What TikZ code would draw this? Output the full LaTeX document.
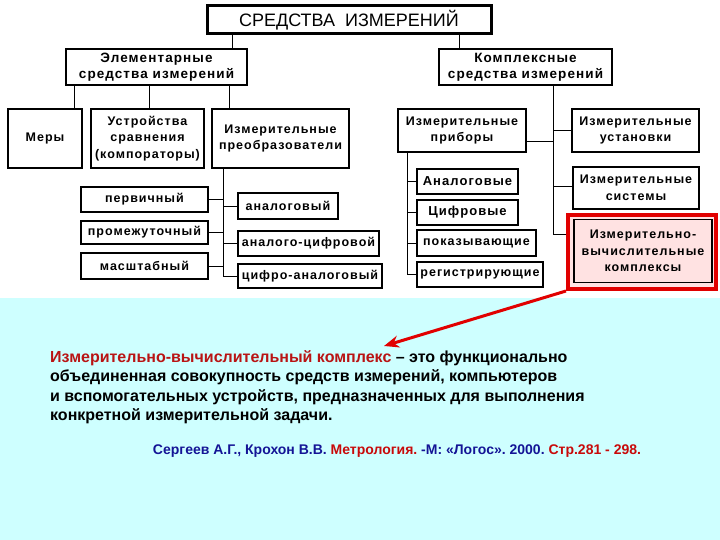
\documentclass[tikz,border=0pt]{standalone}
\usepackage{fontspec}
\setmainfont{Liberation Sans}
\newfontfamily\bxfont[LetterSpace=8]{Liberation Sans}
\usetikzlibrary{arrows.meta}
\definecolor{bgcyan}{RGB}{206,255,255}
\definecolor{pinkfill}{RGB}{255,226,226}
\definecolor{framered}{RGB}{225,0,0}
\definecolor{termred}{RGB}{185,20,20}
\definecolor{citeblue}{RGB}{20,20,150}
\definecolor{citered}{RGB}{200,10,10}
\frenchspacing
\begin{document}
\begin{tikzpicture}[x=1pt,y=-1pt,
  box/.style={draw=black,line width=1.2pt,fill=white,inner sep=0pt,align=center,
    font=\bxfont\bfseries\fontsize{12.5}{16.5}\selectfont},
  bigbox/.style={box,font=\bxfont\bfseries\fontsize{13}{16.5}\selectfont},
  topbox/.style={box,font=\bxfont\bfseries\fontsize{13.5}{16}\selectfont},
  conn/.style={draw=black,line width=0.8pt},
  deftext/.style={anchor=base west,inner sep=0pt,font=\bfseries\fontsize{16}{19}\selectfont},
  citetext/.style={anchor=base,inner sep=0pt,font=\bfseries\fontsize{14}{17}\selectfont}
]
\useasboundingbox (0,0) rectangle (720,540);
\fill[white] (0,0) rectangle (720,298);
\fill[bgcyan] (0,298) rectangle (720,540);

% title
\node[draw=black,line width=3pt,fill=white,minimum width=284pt,minimum height=28pt,inner sep=0pt,
  font=\fontsize{18}{20}\selectfont] (title) at (349,20) {СРЕДСТВА\ \ ИЗМЕРЕНИЙ};

% level 2
\node[topbox,minimum width=181pt,minimum height=36pt] (elem) at (156.5,67) {Элементарные\\средства измерений};
\node[topbox,minimum width=173pt,minimum height=36pt] (kompl) at (525.5,67) {Комплексные\\средства измерений};

% level 3 left
\node[box,minimum width=74pt,minimum height=59pt] (mery) at (45,138.5) {Меры};
\node[box,minimum width=113pt,minimum height=59pt] (ustr) at (147.5,138.5) {Устройства\\сравнения\\(компораторы)};
\node[box,minimum width=137pt,minimum height=59pt] (preobr) at (280.5,138.5) {Измерительные\\преобразователи};

% transformers sub
\node[box,minimum width=127pt,minimum height=25pt] (perv) at (144.5,199.5) {первичный};
\node[box,minimum width=127pt,minimum height=23pt] (promezh) at (144.5,232.5) {промежуточный};
\node[box,minimum width=127pt,minimum height=26pt] (masht) at (144.5,266) {масштабный};
\node[box,minimum width=100pt,minimum height=26pt] (anal) at (288,206) {аналоговый};
\node[box,minimum width=141pt,minimum height=25pt] (ac) at (308.5,243.5) {аналого-цифровой};
\node[box,minimum width=144pt,minimum height=24pt] (ca) at (310,276) {цифро-аналоговый};

% right side
\node[box,minimum width=128pt,minimum height=43pt] (pribory) at (462,130.5) {Измерительные\\приборы};
\node[box,minimum width=127pt,minimum height=43pt] (ustanovki) at (635.5,130.5) {Измерительные\\установки};
\node[box,minimum width=126pt,minimum height=42pt] (sistemy) at (636,188) {Измерительные\\системы};
\node[draw=framered,line width=4pt,fill=pinkfill,minimum width=148pt,minimum height=74pt,inner sep=0pt] (frame) at (642,252) {};
\node[box,fill=pinkfill,minimum width=138pt,minimum height=63pt] (ivk) at (643,251) {Измерительно-\\вычислительные\\комплексы};

\node[bigbox,minimum width=101pt,minimum height=25pt] (analog2) at (467.5,181.5) {Аналоговые};
\node[bigbox,minimum width=101pt,minimum height=25pt] (cifr) at (467.5,212.5) {Цифровые};
\node[box,minimum width=119pt,minimum height=26pt] (pokaz) at (476.5,243) {показывающие};
\node[box,minimum width=126pt,minimum height=25pt] (registr) at (480,274.5) {регистрирующие};

% connectors
\draw[conn] (title.south -| 232,0) -- (elem.north -| 232,0);
\draw[conn] (title.south -| 459,0) -- (kompl.north -| 459,0);
\draw[conn] (elem.south -| 74,0) -- (mery.north -| 74,0);
\draw[conn] (elem.south -| 149,0) -- (ustr.north -| 149,0);
\draw[conn] (elem.south -| 229,0) -- (preobr.north -| 229,0);

\draw[conn] (preobr.south -| 223,0) |- (ca.west);
\draw[conn] (perv.east) -- (perv.east -| 223,0);
\draw[conn] (promezh.east) -- (promezh.east -| 223,0);
\draw[conn] (masht.east) -- (masht.east -| 223,0);
\draw[conn] (anal.west) -- (anal.west -| 223,0);
\draw[conn] (ac.west) -- (ac.west -| 223,0);

\draw[conn] (kompl.south -| 553,0) |- ([yshift=18pt]frame.west);
\draw[conn] (pribory.east |- 0,141) -- (553,141);
\draw[conn] (ustanovki.west |- 0,130) -- (553,130);
\draw[conn] (sistemy.west |- 0,186) -- (553,186);

\draw[conn] (pribory.south -| 407,0) |- (registr.west);
\draw[conn] (analog2.west) -- (analog2.west -| 407,0);
\draw[conn] (cifr.west) -- (cifr.west -| 407,0);
\draw[conn] (pokaz.west) -- (pokaz.west -| 407,0);

% definition text
\node[deftext] (def1) at (50,362) {\textcolor{termred}{Измерительно-вычислительный комплекс} – это функционально};
\node[deftext] (def2) at (50,381.5) {объединенная совокупность средств измерений, компьютеров};
\node[deftext] (def3) at (50,401) {и вспомогательных устройств, предназначенных для выполнения};
\node[deftext] (def4) at (50,420.5) {конкретной измерительной задачи.};
\node[citetext] (cite) at (397,454) {\textcolor{citeblue}{Сергеев А.Г., Крохон В.В.} \textcolor{citered}{Метрология.} \textcolor{citeblue}{-М: «Логос». 2000.} \textcolor{citered}{Стр.281 - 298.}};

% arrow
\coordinate (tip) at (384,346);
\draw[framered,line width=3pt,-{Stealth[length=15pt,width=12pt]}] (frame.south west) -- (tip);
\end{tikzpicture}
\end{document}
